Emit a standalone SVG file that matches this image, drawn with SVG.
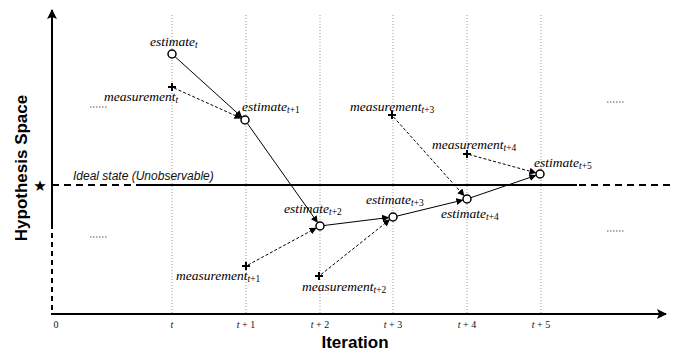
<svg xmlns="http://www.w3.org/2000/svg" width="676" height="355" viewBox="0 0 676 355">
<defs>
<marker id="ah" viewBox="0 0 10 10" refX="9" refY="5" markerWidth="7" markerHeight="7" markerUnits="userSpaceOnUse" orient="auto"><path d="M0,0 L10,5 L0,10 z" fill="#000"/></marker>
<marker id="axh" viewBox="0 0 10 10" refX="9" refY="5" markerWidth="10" markerHeight="10" markerUnits="userSpaceOnUse" orient="auto"><path d="M0,0 L10,5 L0,10 L2,5 z" fill="#000"/></marker>
</defs>
<style>
.grid{stroke:#999;stroke-width:1;stroke-dasharray:1,2;fill:none}
.axis{stroke:#000;stroke-width:2;fill:none}
.est{stroke:#000;stroke-width:1;fill:none}
.meas{stroke:#000;stroke-width:1;stroke-dasharray:3,2;fill:none}
.node{fill:#fff;stroke:#000;stroke-width:1.5}
.plus{stroke:#000;stroke-width:2;fill:none}
.lbl{font-style:italic;font-size:13.5px;fill:#000}
.sub{font-size:9.5px;font-style:normal}
.subi{font-size:9.5px;font-style:italic}
.tick{font-size:10px;fill:#111;text-anchor:middle}
.title{font-weight:bold;font-size:17px;fill:#000;text-anchor:middle}
.dots{stroke:#555;stroke-width:1;stroke-dasharray:1.5,1.5}
</style>
<g id="grid">
<line class="grid" x1="172" y1="15" x2="172" y2="313"/>
<line class="grid" x1="246" y1="15" x2="246" y2="313"/>
<line class="grid" x1="320" y1="15" x2="320" y2="313"/>
<line class="grid" x1="393" y1="15" x2="393" y2="313"/>
<line class="grid" x1="467" y1="15" x2="467" y2="313"/>
<line class="grid" x1="541" y1="15" x2="541" y2="313"/>
</g>
<g id="axes">
<line class="axis" x1="52" y1="224" x2="52" y2="10" marker-end="url(#axh)"/>
<line class="axis" x1="52" y1="224" x2="52" y2="314" stroke-dasharray="5,4"/>
<line class="axis" x1="51" y1="314" x2="666" y2="314" marker-end="url(#axh)"/>
<g font-family="Liberation Serif, serif">
<text class="tick" x="56" y="328">0</text>
<text class="tick" x="172" y="328"><tspan font-style="italic">t</tspan></text>
<text class="tick" x="246" y="328"><tspan font-style="italic">t</tspan> + 1</text>
<text class="tick" x="320" y="328"><tspan font-style="italic">t</tspan> + 2</text>
<text class="tick" x="393" y="328"><tspan font-style="italic">t</tspan> + 3</text>
<text class="tick" x="467" y="328"><tspan font-style="italic">t</tspan> + 4</text>
<text class="tick" x="541" y="328"><tspan font-style="italic">t</tspan> + 5</text>
</g>
<g font-family="Liberation Sans, Arial, sans-serif">
<text class="title" x="355" y="348">Iteration</text>
<text class="title" transform="translate(27,168) rotate(-90)">Hypothesis Space</text>
</g>
</g>
<g id="ideal">
<line x1="52" y1="185" x2="143" y2="185" stroke="#000" stroke-width="2" stroke-dasharray="7,5"/>
<line x1="143" y1="185" x2="577" y2="185" stroke="#000" stroke-width="2"/>
<line x1="579" y1="185" x2="670" y2="185" stroke="#000" stroke-width="2" stroke-dasharray="7,5"/>
<text x="40" y="191" font-family="DejaVu Sans, sans-serif" font-size="15" text-anchor="middle">★</text>
<text x="73" y="180" font-family="Liberation Sans, Arial, sans-serif" font-style="italic" font-size="12" fill="#111">Ideal state (Unobservable)</text>
</g>
<g id="ellipses">
<line class="dots" x1="90" y1="107" x2="107" y2="107"/>
<line class="dots" x1="90" y1="237" x2="107" y2="237"/>
<line class="dots" x1="607" y1="102" x2="624" y2="102"/>
<line class="dots" x1="607" y1="231" x2="624" y2="231"/>
</g>
<g id="connectors">
<line class="est" x1="175" y1="56.7" x2="241.7" y2="117" marker-end="url(#ah)"/>
<line class="est" x1="247.3" y1="123.3" x2="317.4" y2="222.3" marker-end="url(#ah)"/>
<line class="est" x1="324" y1="225.5" x2="388.5" y2="217.5" marker-end="url(#ah)"/>
<line class="est" x1="396.9" y1="216.1" x2="462.6" y2="200.1" marker-end="url(#ah)"/>
<line class="est" x1="470.8" y1="197.7" x2="535.7" y2="175.5" marker-end="url(#ah)"/>
<line class="meas" x1="174" y1="88" x2="240.9" y2="118.1" marker-end="url(#ah)"/>
<line class="meas" x1="248" y1="265" x2="316" y2="228.1" marker-end="url(#ah)"/>
<line class="meas" x1="321" y1="274.5" x2="389.5" y2="219.8" marker-end="url(#ah)"/>
<line class="meas" x1="393.5" y1="117" x2="464" y2="195.6" marker-end="url(#ah)"/>
<line class="meas" x1="469" y1="154.5" x2="535.7" y2="172.8" marker-end="url(#ah)"/>
</g>
<g font-family="Liberation Serif, serif">
<g id="estimate_t"><circle class="node" cx="172" cy="54" r="4"/><text class="lbl" x="150" y="46">estimate<tspan class="subi" dy="2">t</tspan></text></g>
<g id="measurement_t"><path class="plus" d="M168,87 H176 M172,83 V91"/><text class="lbl" x="104" y="101">measurement<tspan class="subi" dy="2">t</tspan></text></g>
<g id="estimate_t1"><circle class="node" cx="245" cy="120" r="4"/><text class="lbl" x="242" y="111">estimate<tspan class="subi" dy="2">t</tspan><tspan class="sub">+1</tspan></text></g>
<g id="measurement_t1"><path class="plus" d="M242,266 H250 M246,262 V270"/><text class="lbl" x="176" y="280">measurement<tspan class="subi" dy="2">t</tspan><tspan class="sub">+1</tspan></text></g>
<g id="estimate_t2"><circle class="node" cx="320" cy="226" r="4"/><text class="lbl" x="284" y="213">estimate<tspan class="subi" dy="2">t</tspan><tspan class="sub">+2</tspan></text></g>
<g id="measurement_t2"><path class="plus" d="M315,276 H323 M319,272 V280"/><text class="lbl" x="302" y="291">measurement<tspan class="subi" dy="2">t</tspan><tspan class="sub">+2</tspan></text></g>
<g id="estimate_t3"><circle class="node" cx="393" cy="217" r="4"/><text class="lbl" x="366" y="204">estimate<tspan class="subi" dy="2">t</tspan><tspan class="sub">+3</tspan></text></g>
<g id="measurement_t3"><path class="plus" d="M388,115 H396 M392,111 V119"/><text class="lbl" x="350" y="111">measurement<tspan class="subi" dy="2">t</tspan><tspan class="sub">+3</tspan></text></g>
<g id="estimate_t4"><circle class="node" cx="467" cy="199" r="4"/><text class="lbl" x="441" y="218">estimate<tspan class="subi" dy="2">t</tspan><tspan class="sub">+4</tspan></text></g>
<g id="measurement_t4"><path class="plus" d="M463,154 H471 M467,150 V158"/><text class="lbl" x="432" y="149">measurement<tspan class="subi" dy="2">t</tspan><tspan class="sub">+4</tspan></text></g>
<g id="estimate_t5"><circle class="node" cx="540" cy="174" r="4"/><text class="lbl" x="534" y="167">estimate<tspan class="subi" dy="2">t</tspan><tspan class="sub">+5</tspan></text></g>
</g>
</svg>
